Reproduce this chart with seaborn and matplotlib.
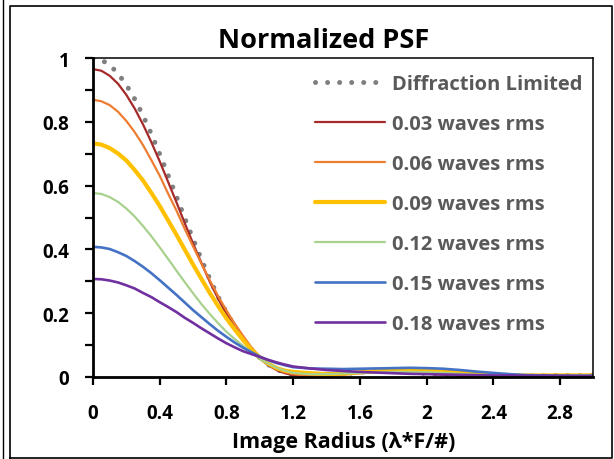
import matplotlib
matplotlib.use("Agg")
import matplotlib.pyplot as plt
import seaborn as sns
from matplotlib.lines import Line2D

# data (x in units of lambda*F/#)
radius = [0.00, 0.05, 0.10, 0.15, 0.20, 0.25, 0.30, 0.35, 0.40, 0.45,
          0.50, 0.55, 0.60, 0.65, 0.70, 0.75, 0.80, 0.85, 0.90, 0.95,
          1.00, 1.05, 1.10, 1.15, 1.20,
          1.3, 1.4, 1.5, 1.6, 1.7, 1.8, 1.9, 2.0, 2.1, 2.2,
          2.3, 2.4, 2.5, 2.6, 2.7, 2.8, 2.9, 3.0]

diffraction = [1.000, 0.995, 0.979, 0.952, 0.916, 0.872, 0.820, 0.762, 0.699, 0.633,
               0.566, 0.498, 0.432, 0.368, 0.307, 0.251, 0.202, 0.157, 0.118, 0.086,
               0.059, 0.038, 0.023, 0.012, 0.005,
               0.000, 0.003, 0.009, 0.014, 0.017, 0.017, 0.014, 0.010, 0.006, 0.002,
               0.000, 0.000, 0.001, 0.002, 0.003, 0.004, 0.004, 0.004]
rms_003 = [0.966, 0.961, 0.945, 0.920, 0.885, 0.842, 0.792, 0.736, 0.676, 0.612,
           0.548, 0.482, 0.418, 0.357, 0.298, 0.245, 0.197, 0.154, 0.116, 0.083,
           0.057, 0.036, 0.021, 0.011, 0.005,
           0.001, 0.003, 0.008, 0.013, 0.016, 0.016, 0.014, 0.010, 0.006, 0.003,
           0.001, 0.001, 0.001, 0.002, 0.003, 0.004, 0.004, 0.003]
rms_006 = [0.870, 0.865, 0.853, 0.832, 0.803, 0.768, 0.727, 0.680, 0.631, 0.575,
           0.522, 0.464, 0.409, 0.355, 0.303, 0.253, 0.208, 0.166, 0.128, 0.092,
           0.062, 0.040, 0.024, 0.014, 0.008,
           0.003, 0.003, 0.006, 0.011, 0.015, 0.017, 0.016, 0.014, 0.010, 0.007,
           0.004, 0.002, 0.002, 0.002, 0.003, 0.003, 0.003, 0.003]
rms_009 = [0.733, 0.729, 0.718, 0.701, 0.679, 0.649, 0.616, 0.577, 0.536, 0.491,
           0.446, 0.399, 0.352, 0.307, 0.263, 0.222, 0.183, 0.148, 0.115, 0.085,
           0.060, 0.041, 0.027, 0.019, 0.015,
           0.011, 0.008, 0.010, 0.014, 0.017, 0.019, 0.020, 0.019, 0.016, 0.012,
           0.008, 0.005, 0.004, 0.004, 0.004, 0.004, 0.004, 0.004]
rms_012 = [0.577, 0.574, 0.564, 0.549, 0.528, 0.503, 0.473, 0.441, 0.406, 0.370,
           0.333, 0.297, 0.262, 0.228, 0.197, 0.168, 0.141, 0.118, 0.097, 0.076,
           0.056, 0.041, 0.028, 0.019, 0.012,
           0.008, 0.008, 0.010, 0.012, 0.014, 0.015, 0.015, 0.014, 0.012, 0.009,
           0.006, 0.004, 0.003, 0.003, 0.003, 0.003, 0.003, 0.003]
rms_015 = [0.408, 0.406, 0.401, 0.391, 0.379, 0.363, 0.345, 0.325, 0.303, 0.280,
           0.257, 0.233, 0.209, 0.187, 0.165, 0.144, 0.125, 0.107, 0.091, 0.077,
           0.063, 0.052, 0.043, 0.036, 0.030,
           0.026, 0.025, 0.024, 0.025, 0.026, 0.027, 0.028, 0.027, 0.025, 0.021,
           0.016, 0.012, 0.008, 0.005, 0.004, 0.003, 0.003, 0.003]
rms_018 = [0.307, 0.306, 0.302, 0.296, 0.287, 0.277, 0.263, 0.250, 0.234, 0.219,
           0.203, 0.185, 0.169, 0.152, 0.136, 0.120, 0.105, 0.092, 0.080, 0.071,
           0.062, 0.053, 0.045, 0.038, 0.032,
           0.026, 0.021, 0.018, 0.015, 0.013, 0.011, 0.009, 0.008, 0.007, 0.006,
           0.005, 0.004, 0.004, 0.003, 0.003, 0.003, 0.002, 0.002]

series = [diffraction, rms_003, rms_006, rms_009, rms_012, rms_015, rms_018]
labels = ["Diffraction Limited", "0.03 waves rms", "0.06 waves rms", "0.09 waves rms",
          "0.12 waves rms", "0.15 waves rms", "0.18 waves rms"]
colors = ["#808080", "#A52A2A", "#ED7D31", "#FFC000", "#A9D18E", "#4472C4", "#7030A0"]
widths = [3.6, 1.6, 1.6, 3.0, 1.6, 1.9, 1.9]

xticks = [0, 0.4, 0.8, 1.2, 1.6, 2.0, 2.4, 2.8]
xtick_labels = ["0", "0.4", "0.8", "1.2", "1.6", "2", "2.4", "2.8"]
yticks = [0, 0.2, 0.4, 0.6, 0.8, 1.0]
ytick_labels = ["0", "0.2", "0.4", "0.6", "0.8", "1"]

sns.set_theme(style="white")
plt.rcParams["font.family"] = ["Open Sans", "DejaVu Sans"]
plt.rcParams["font.weight"] = "bold"

fig = plt.figure(figsize=(6.14, 4.60), dpi=100)
ax = fig.add_axes([0.1515, 0.1789, 0.8151, 0.6922])

for vals, lab, col, lw in zip(series, labels, colors, widths):
    sns.lineplot(x=radius, y=vals, ax=ax, color=col, linewidth=lw, label=lab)

# dotted diffraction-limited curve
dl = ax.lines[0]
dl.set_linestyle((0, (0.01, 2.4)))
dl.set_dash_capstyle("round")

ax.set_xlim(0, 3)
ax.set_ylim(0, 1)
ax.set_xticks(xticks)
ax.set_xticklabels(xtick_labels)
ax.set_yticks(yticks)
ax.set_yticklabels(ytick_labels)
ax.set_yticks([0.1, 0.3, 0.5, 0.7, 0.9], minor=True)
ax.tick_params(axis="both", which="both", direction="out", length=6, width=1.6,
               color="black", labelsize=13.5, labelcolor="black")
ax.tick_params(axis="y", which="both", pad=11, left=True)
ax.tick_params(axis="x", which="both", pad=13, bottom=True)
for s in ["left", "bottom"]:
    ax.spines[s].set_linewidth(2.0)
for s in ["top", "right"]:
    ax.spines[s].set_linewidth(1.1)
for s in ax.spines.values():
    s.set_color("black")

ax.set_xlabel("Image Radius (λ*F/#)", fontsize=15.5, fontweight="bold", labelpad=6, color="black")
ax.set_ylabel("")

handles = ax.lines[:len(labels)]
leg = ax.legend(handles, labels, loc="upper left", bbox_to_anchor=(315 / 614, 1 - 75 / 460),
                bbox_transform=fig.transFigure, frameon=False, fontsize=14.5,
                handlelength=3.5, handletextpad=0.3, labelspacing=0.99,
                borderpad=0, borderaxespad=0)
for t in leg.get_texts():
    t.set_color("#595959")
    t.set_fontweight("bold")

fig.text(324 / 614, 1 - 41 / 460, "Normalized PSF", ha="center", va="center",
         fontsize=19.5, fontweight="bold", color="black")

# chart frame
fig.add_artist(Line2D([3 / 614, 3 / 614], [0, 1], transform=fig.transFigure, color="black", lw=1.0))
fx0, fx1 = 10 / 614, 612 / 614
fy0, fy1 = 1 - 458.5 / 460, 1 - 7 / 460
fig.add_artist(Line2D([fx0, fx1, fx1, fx0, fx0], [fy0, fy0, fy1, fy1, fy0],
                      transform=fig.transFigure, color="black", lw=1.2))

fig.savefig("out.png", dpi=100)
